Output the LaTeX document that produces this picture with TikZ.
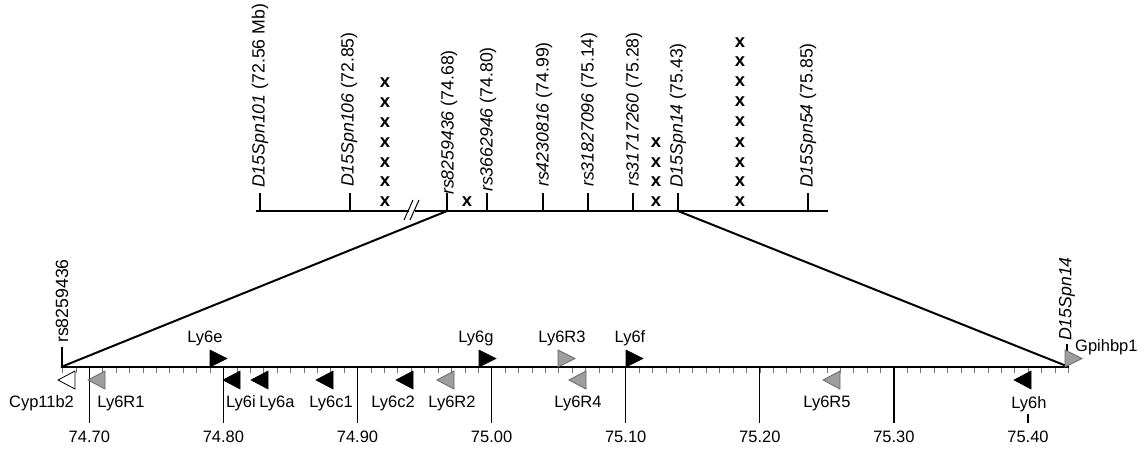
\documentclass[tikz,border=0pt]{standalone}
\usepackage{fontspec}
\setmainfont{Liberation Sans}
\tikzset{
  lab/.style={font=\fontsize{16.5}{19}\selectfont, inner sep=0pt},
  rlab/.style={font=\fontsize{17.7}{20}\selectfont, inner sep=0pt, rotate=90, anchor=west},
  xm/.style={font=\fontsize{18.5}{20}\selectfont\bfseries, inner sep=0pt},
  blk/.style={fill=black, draw=black, line width=0.6pt},
  gry/.style={fill=black!38, draw=black!60, line width=0.8pt},
  wht/.style={fill=white, draw=black, line width=0.8pt},
  axisline/.style={line width=2.3pt},
  zoomline/.style={line width=2pt},
  toptick/.style={line width=2.2pt},
  majtick/.style={line width=1.2pt},
  mintick/.style={line width=0.6pt, black!55},
}
\newcommand\fgene[2]{\path[#1] (#2,367) -- (#2,350) -- ({#2+17},358.5) -- cycle;}
\newcommand\rgene[2]{\path[#1] (#2,371) -- (#2,389) -- ({#2-17},380) -- cycle;}
\begin{document}
\begin{tikzpicture}[x=1pt,y=-1pt]
\useasboundingbox (0,0) rectangle (1147,450);

% ---------- top (genetic) axis ----------
\draw[axisline] (256,211) -- (409,211);
\draw[axisline] (415,211) -- (828,211);
\draw[line width=1pt] (404,220) -- (413,200);
\draw[line width=1pt] (410,220) -- (419,200);

\foreach \x/\nm in {260/a,350/b,447/c,487/d,543/e,588/f,633/g,678/h,808/i}{
  \coordinate (t\nm) at (\x,211);
  \draw[toptick] (\x,193) -- (t\nm);
}
\node[rlab] (l1) at (260,188) {\textit{D15Spn101} (72.56 Mb)};
\node[rlab] (l2) at (349,187) {\textit{D15Spn106} (72.85)};
\node[rlab] (l3) at (449,195) {\textit{rs8259436} (74.68)};
\node[rlab] (l4) at (488,192) {\textit{rs3662946} (74.80)};
\node[rlab] (l5) at (544,187) {\textit{rs4230816} (74.99)};
\node[rlab] (l6) at (589,187) {\textit{rs31827096} (75.14)};
\node[rlab] (l7) at (634,187) {\textit{rs31717260} (75.28)};
\node[rlab] (l8) at (678,188) {\textit{D15Spn14} (75.43)};
\node[rlab] (l9) at (808,188) {\textit{D15Spn54} (75.85)};

% crossovers
\foreach \y [count=\k] in {83,103,123,143,163,182,202}{
  \node[xm] (xa\k) at (385,\y) {x};
}
\node[xm] (xb1) at (467,202) {x};
\foreach \y [count=\k] in {143,163,182,202}{
  \node[xm] (xc\k) at (656,\y) {x};
}
\foreach \y [count=\k] in {43,62,82,102,122,143,163,182,202}{
  \node[xm] (xd\k) at (740,\y) {x};
}

% ---------- bottom (physical) axis ----------
\coordinate (bA) at (61,367);
\coordinate (bB) at (1069,367);
\draw[zoomline] (tc) -- (bA);
\draw[zoomline] (th) -- (bB);

\foreach \i in {0,...,75}{
  \draw[mintick] ({62.5+\i*13.41},368) -- ({62.5+\i*13.41},372.5);
}
\foreach \x/\v in {89.3/74.70,223.4/74.80,357.5/74.90,491.6/75.00,625.7/75.10,759.8/75.20,893.9/75.30}{
  \draw[majtick] (\x,367) -- (\x,423);
  \node[lab] at (\x,437) {\v};
}
\draw[majtick] (1028,414) -- (1028,423);
\node[lab] (n740) at (1028,437) {75.40};

\draw[line width=2.8pt] (bA) -- (bB);

% end markers
\draw[line width=2.2pt] (61.7,347) -- (61.7,367);
\node[rlab] (rsL) at (62,343) {rs8259436};
\draw[line width=2.2pt] (1067,344) -- (1067,351);
\node[rlab] (dsR) at (1067,341) {\textit{D15Spn14}};

% forward genes (above axis)
\fgene{blk}{210} \node[lab] (Ly6e) at (205,338) {Ly6e};
\fgene{blk}{479} \node[lab] (Ly6g) at (476,338) {Ly6g};
\fgene{gry}{558} \node[lab] (Ly6R3) at (562,338) {Ly6R3};
\fgene{blk}{626} \node[lab] (Ly6f) at (630,338) {Ly6f};
\fgene{gry}{1065} \node[lab, anchor=west] (Gpihbp1) at (1075,347) {Gpihbp1};

% reverse genes (below axis)
\rgene{wht}{75}   \node[lab] (Cyp11b2) at (41.5,403) {Cyp11b2};
\rgene{gry}{105}  \node[lab] (Ly6R1) at (121,403) {Ly6R1};
\rgene{blk}{240}  \node[lab] (Ly6i) at (241,403) {Ly6i};
\rgene{blk}{268}  \node[lab] (Ly6a) at (277,403) {Ly6a};
\rgene{blk}{333}  \node[lab] (Ly6c1) at (331,403) {Ly6c1};
\rgene{blk}{413}  \node[lab] (Ly6c2) at (393,403) {Ly6c2};
\rgene{gry}{454}  \node[lab] (Ly6R2) at (452,403) {Ly6R2};
\rgene{gry}{586}  \node[lab] (Ly6R4) at (578,403) {Ly6R4};
\rgene{gry}{840}  \node[lab] (Ly6R5) at (827,403) {Ly6R5};
\rgene{blk}{1031} \node[lab] (Ly6h) at (1029,404) {Ly6h};
\end{tikzpicture}
\end{document}
